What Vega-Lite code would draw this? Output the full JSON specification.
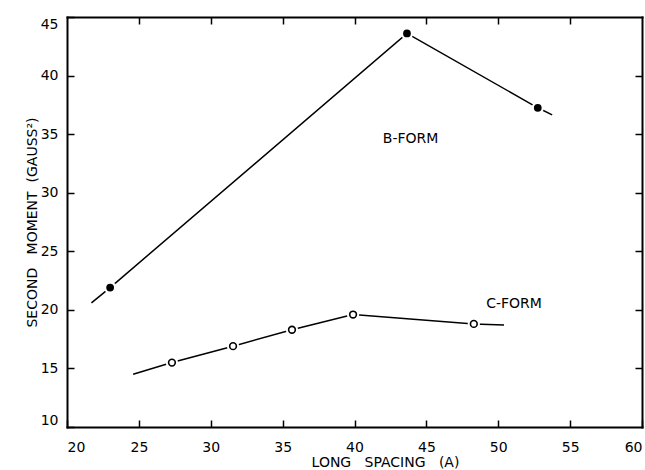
{
  "$schema": "https://vega.github.io/schema/vega-lite/v6.json",
  "width": 575,
  "height": 410,
  "autosize": "none",
  "padding": {"left": 67, "top": 17, "right": 3, "bottom": 43},
  "background": "white",
  "config": {
    "view": {"stroke": null},
    "font": "DejaVu Sans",
    "axis": {
      "domainColor": "black",
      "domainWidth": 2,
      "domainCap": "square",
      "tickColor": "black",
      "tickWidth": 1.5,
      "tickSize": -7,
      "labelColor": "black",
      "labelFont": "DejaVu Sans",
      "labelFontSize": 14,
      "titleFont": "DejaVu Sans",
      "titleFontSize": 14,
      "titleFontWeight": "normal",
      "titleColor": "black",
      "grid": false
    }
  },
  "datasets": {
    "curves": [
      {"form": "B", "spacing": 21.7, "moment": 20.6, "marker": false},
      {"form": "B", "spacing": 23.0, "moment": 21.9, "marker": true},
      {"form": "B", "spacing": 43.65, "moment": 43.6, "marker": true},
      {"form": "B", "spacing": 52.75, "moment": 37.25, "marker": true},
      {"form": "B", "spacing": 53.75, "moment": 36.65, "marker": false},
      {"form": "C", "spacing": 24.6, "moment": 14.5, "marker": false},
      {"form": "C", "spacing": 27.3, "moment": 15.5, "marker": true},
      {"form": "C", "spacing": 31.55, "moment": 16.9, "marker": true},
      {"form": "C", "spacing": 35.65, "moment": 18.3, "marker": true},
      {"form": "C", "spacing": 39.9, "moment": 19.6, "marker": true},
      {"form": "C", "spacing": 48.3, "moment": 18.8, "marker": true},
      {"form": "C", "spacing": 50.4, "moment": 18.7, "marker": false}
    ],
    "labels": [
      {"label": "B-FORM", "spacing": 43.9, "moment": 34.6},
      {"label": "C-FORM", "spacing": 51.1, "moment": 20.5}
    ]
  },
  "layer": [
    {
      "data": {"name": "curves"},
      "mark": {"type": "line", "color": "black", "strokeWidth": 1.5},
      "encoding": {
        "x": {
          "field": "spacing", "type": "quantitative",
          "scale": {"domain": [20, 60], "nice": false, "zero": false},
          "axis": {
            "orient": "bottom",
            "values": [20, 25, 30, 35, 40, 45, 50, 55, 60],
            "labelFlush": true,
            "labelPadding": 20,
            "title": "LONG\u00a0\u00a0 SPACING\u00a0\u00a0 (A)",
            "titleX": 318,
            "titleY": 35,
            "titleBaseline": "middle"
          }
        },
        "y": {
          "field": "moment", "type": "quantitative",
          "scale": {"domain": [10, 45], "nice": false, "zero": false},
          "axis": {
            "orient": "left",
            "values": [10, 15, 20, 25, 30, 35, 40, 45],
            "labelFlush": true,
            "labelPadding": 16,
            "title": "SECOND\u00a0\u00a0 MOMENT\u00a0 (GAUSS²)",
            "titleX": -35,
            "titleY": 205,
            "titleBaseline": "middle"
          }
        },
        "detail": {"field": "form"}
      }
    },
    {
      "data": {"name": "curves"},
      "transform": [{"filter": "datum.marker"}],
      "mark": {"type": "point", "shape": "circle", "filled": true, "color": "white", "size": 150, "opacity": 1},
      "encoding": {
        "x": {
          "field": "spacing", "type": "quantitative",
          "scale": {"domain": [20, 60], "nice": false, "zero": false},
          "axis": {"orient": "top", "values": [25, 30, 35, 40, 45, 50, 55], "labels": false, "title": null}
        },
        "y": {
          "field": "moment", "type": "quantitative",
          "scale": {"domain": [10, 45], "nice": false, "zero": false},
          "axis": {"orient": "right", "values": [15, 20, 25, 30, 35, 40], "labels": false, "title": null}
        }
      }
    },
    {
      "data": {"name": "curves"},
      "transform": [{"filter": "datum.marker && datum.form == 'B'"}],
      "mark": {"type": "point", "shape": "circle", "filled": true, "color": "black", "size": 60, "opacity": 1},
      "encoding": {
        "x": {"field": "spacing", "type": "quantitative", "axis": null},
        "y": {"field": "moment", "type": "quantitative", "axis": null}
      }
    },
    {
      "data": {"name": "curves"},
      "transform": [{"filter": "datum.marker && datum.form == 'C'"}],
      "mark": {"type": "point", "shape": "circle", "filled": false, "fill": "white", "stroke": "black", "strokeWidth": 1.6, "size": 45, "opacity": 1},
      "encoding": {
        "x": {"field": "spacing", "type": "quantitative", "axis": null},
        "y": {"field": "moment", "type": "quantitative", "axis": null}
      }
    },
    {
      "data": {"name": "labels"},
      "mark": {"type": "text", "font": "DejaVu Sans", "fontSize": 14, "color": "black", "align": "center", "baseline": "middle"},
      "encoding": {
        "x": {"field": "spacing", "type": "quantitative", "axis": null},
        "y": {"field": "moment", "type": "quantitative", "axis": null},
        "text": {"field": "label"}
      }
    }
  ],
  "resolve": {"axis": {"x": "independent", "y": "independent"}}
}
